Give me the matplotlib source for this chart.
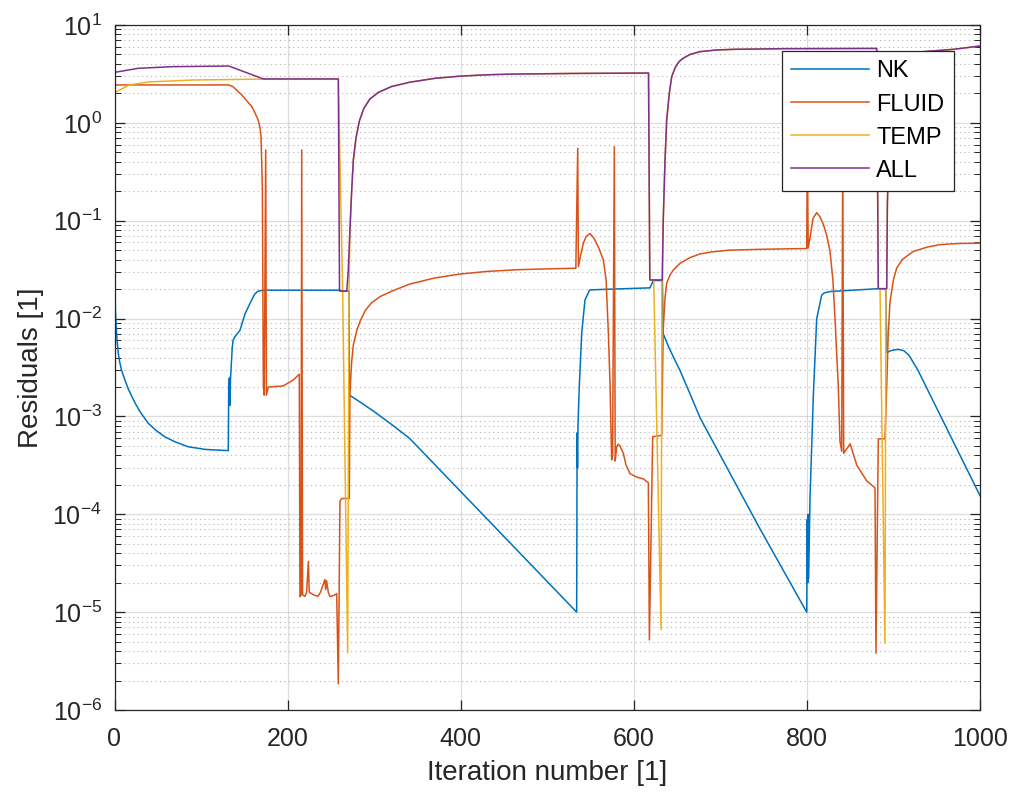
import numpy as np
import matplotlib
matplotlib.use("Agg")
from matplotlib import pyplot as plt
from matplotlib.ticker import FixedLocator, NullLocator, NullFormatter

# values (iteration, residual)
nk_x = [0, 0.5, 1, 2, 3, 4.4, 6, 8, 12, 16, 20, 24, 30, 39, 48, 58, 70, 85, 105, 131.5,
        132, 132.5, 133, 133.5, 134, 136, 137, 139, 145, 151, 158.5, 162, 165, 168, 175,
        261, 262.5, 271, 271.5, 285, 300, 320, 341, 534,
        534.5, 535, 535.5, 537, 539.8, 543.6, 549, 560, 618.7, 622.5, 633, 634, 640, 646,
        653, 665, 676.5, 745.8, 799.8, 800.3, 801, 801.5, 802, 803.6, 807.4, 811.3, 817,
        820, 826.7, 882.5, 891, 892.5, 897, 905, 912, 918, 928, 1000]
nk_y = [0.29, 0.03, 0.012, 8e-3, 6e-3, 4.4e-3, 3.6e-3, 3.0e-3, 2.36e-3, 1.9e-3, 1.6e-3,
        1.36e-3, 1.1e-3, 8.5e-4, 7.2e-4, 6.2e-4, 5.5e-4, 4.9e-4, 4.6e-4, 4.47e-4,
        2.4e-3, 1.4e-3, 2.5e-3, 1.3e-3, 2.4e-3, 5e-3, 6.0e-3, 6.5e-3, 7.6e-3, 0.0113,
        0.0155, 0.0178, 0.0188, 0.0193, 0.0195,
        0.0195, 0.0191, 0.0191, 1.65e-3, 1.38e-3, 1.12e-3, 8.3e-4, 5.96e-4, 1.0e-5,
        6.8e-4, 3e-4, 8e-4, 2.0e-3, 7.1e-3, 0.0155, 0.0196, 0.0198, 0.0206, 0.0245,
        0.0245, 7.0e-3, 5.2e-3, 4.0e-3,
        3.0e-3, 1.7e-3, 9.7e-4, 7.1e-5, 1.0e-5, 8.8e-5, 2e-5, 1e-4, 2.2e-5, 1.47e-4,
        1.6e-3, 9.9e-3, 0.0173,
        0.0183, 0.0189, 0.0202, 0.0202, 4.5e-3, 4.7e-3, 4.85e-3, 4.7e-3, 4.2e-3, 3.0e-3,
        1.55e-4]

fluid_x = [0, 132, 137, 147, 158.5, 162, 166, 168, 169.3, 170.8, 172, 173, 174.7, 175.5,
           177.7, 195, 206.6, 213.5, 214.3, 215.5, 216.3, 217.3, 220, 222, 224, 225, 230,
           235, 238, 241, 243, 244, 245, 247, 249, 254.8, 256.7, 258.6, 260.5, 262.5,
           271.3, 272, 274, 276, 280, 284, 290, 297, 307, 320, 341, 370, 399, 430, 467,
           500, 533, 535.2, 536, 538, 541.7, 545, 549.4, 554, 559, 562, 564.8, 568,
           570.6, 572.5, 574.4, 575.5, 577.5, 578.5, 580.2, 582, 584, 587.9, 591, 595.6,
           603.4, 611, 616.8, 618, 621.8, 632.2, 633, 634, 636, 638, 642, 645.6, 653.4,
           665, 676.5, 690, 710, 745.8, 799.8, 800.5, 801.5, 804, 807, 811.3, 815, 819,
           823, 826.7, 830, 832.5, 836.3, 838.2, 840.2, 841.4, 842.5, 844, 850, 857.5,
           869, 878.7, 879.8, 882.5, 890.2, 892.2, 894, 896, 900, 903.7, 910, 923, 940,
           953.8, 975, 1000]
fluid_y = [2.44, 2.44, 2.34, 1.93, 1.47, 1.28, 1.07, 0.9, 0.72, 0.223, 2.0e-3, 1.65e-3,
           0.53, 1.65e-3,
           2.0e-3, 2.05e-3, 2.36e-3, 2.7e-3, 1.44e-5, 1.5e-5, 0.53, 1.5e-5, 1.45e-5,
           1.6e-5, 3.3e-5, 1.6e-5, 1.5e-5,
           1.45e-5, 1.6e-5, 1.9e-5, 2.16e-5, 1.7e-5, 2.1e-5, 1.6e-5, 1.44e-5, 1.5e-5,
           1.55e-5, 1.85e-6, 1.36e-4, 1.45e-4,
           1.45e-4, 1.7e-3, 3.6e-3, 5.4e-3, 7.6e-3, 9.5e-3, 0.0122, 0.0145, 0.0168, 0.019,
           0.0225, 0.026, 0.0285, 0.0303, 0.0316,
           0.0322, 0.0327, 0.55, 0.034, 0.042, 0.059, 0.069, 0.074, 0.066, 0.054, 0.046,
           0.0397, 0.0248,
           7.1e-3, 2.2e-3, 3.6e-4, 4e-4, 0.57, 3.5e-4, 4.9e-4, 5.2e-4, 5.0e-4, 4.2e-4,
           3.2e-4, 2.6e-4,
           2.4e-4, 2.3e-4, 2.1e-4, 5.2e-6, 6.2e-4, 6.4e-4, 2e-3, 7.8e-3, 0.016, 0.023,
           0.028, 0.0313, 0.0367,
           0.042, 0.0458, 0.048, 0.05, 0.051, 0.052, 0.55, 0.0526, 0.07, 0.105, 0.121,
           0.11, 0.092,
           0.07, 0.0486, 0.025, 9.9e-3, 2.0e-3, 5.6e-4, 4.4e-4, 0.55, 4.2e-4, 4.4e-4,
           5.25e-4, 3.2e-4,
           2.2e-4, 1.86e-4, 3.8e-6, 5.9e-4, 5.9e-4, 2e-3, 7e-3, 0.0148, 0.025, 0.0327,
           0.04, 0.0486, 0.054,
           0.057, 0.0585, 0.059]

temp_x = [0, 17, 40, 90, 172, 258.6, 263.6, 269.4, 271, 272, 274, 276, 279, 283, 288,
          295, 305, 320, 341, 370, 399, 430, 460, 533, 617, 618.5, 623, 631.5, 632.5,
          634, 636, 638, 641, 643.8, 648, 652, 657, 665, 676.5, 695, 715, 772.7, 880.6,
          882.5, 884.5, 890.2, 891.4, 892.2, 893, 896, 900, 910, 930, 970, 1000]
temp_y = [2.03, 2.44, 2.62, 2.74, 2.8, 2.81, 0.0191, 3.85e-6, 0.0191, 0.08, 0.2, 0.42,
          0.7, 1.05, 1.4, 1.75, 2.05, 2.35, 2.6, 2.85, 3.0, 3.1, 3.15, 3.2, 3.23, 0.0248,
          0.0248, 6.6e-6, 0.0248,
          0.1, 0.4, 1.07, 2.0, 2.97, 3.7, 4.2, 4.57, 5.0, 5.34, 5.55, 5.64, 5.73, 5.76,
          0.0202, 0.0202, 4.8e-6, 0.0202, 0.0202, 0.15, 1.5, 3.0, 4.5, 5.3, 5.65, 6.1]

all_x = [0, 27.5, 66, 132, 172, 258.6, 260, 268.3, 270, 272, 274, 276, 279, 283, 288,
         295, 305, 320, 341, 370, 399, 430, 460, 533, 617, 618.5, 633, 634, 636, 638,
         641, 643.8, 648, 652, 657, 665, 676.5, 695, 715, 772.7, 880.6, 882.5, 892.2,
         893, 896, 900, 910, 930, 970, 1000]
all_y = [3.28, 3.61, 3.75, 3.81, 2.81, 2.81, 0.0191, 0.0191, 0.03, 0.08, 0.2, 0.42, 0.7,
         1.05, 1.4, 1.75, 2.05, 2.35, 2.6, 2.85, 3.0, 3.1, 3.15, 3.2, 3.23, 0.0248,
         0.0248, 0.1, 0.4, 1.07,
         2.0, 2.97, 3.7, 4.2, 4.57, 5.0, 5.34, 5.55, 5.64, 5.73, 5.76, 0.0202, 0.0202,
         0.15, 1.5, 3.0, 4.5, 5.3, 5.65, 6.1]

names = ["NK", "FLUID", "TEMP", "ALL"]
colors = ["#0072BD", "#D95319", "#EDB120", "#7E2F8E"]
x_ticks = [0, 200, 400, 600, 800, 1000]
y_decades = [-6, -5, -4, -3, -2, -1, 0, 1]

plt.rcParams['font.family'] = ['Liberation Sans', 'DejaVu Sans']
plt.rcParams['mathtext.fontset'] = 'custom'
plt.rcParams['mathtext.rm'] = 'Liberation Sans'
plt.rcParams['mathtext.it'] = 'Liberation Sans:italic'

dark = "#262626"

fig = plt.figure(figsize=(10.17, 7.96), dpi=100)
ax = fig.add_axes([114.5 / 1017, 86 / 796, (980 - 114.5) / 1017, 685 / 796])

series = [(nk_x, nk_y), (fluid_x, fluid_y), (temp_x, temp_y), (all_x, all_y)]
for (sx, sy), name, c in zip(series, names, colors):
    ax.plot(sx, sy, color=c, lw=1.1, label=name)

ax.set_yscale("log")
ax.set_xlim(0, 1000)
ax.set_ylim(1e-6, 1e1)
ax.set_xticks(x_ticks)
ax.xaxis.set_minor_locator(NullLocator())

# only decades inside the view, so no stray labels outside the axes
major = [10.0 ** d for d in y_decades]
minor = [m * 10.0 ** d for d in y_decades[:-1] for m in range(2, 10)]
ax.yaxis.set_major_locator(FixedLocator(major))
ax.yaxis.set_minor_locator(FixedLocator(minor))
ax.yaxis.set_minor_formatter(NullFormatter())
ax.set_yticklabels([r"$\mathdefault{10^{%d}}$" % d for d in y_decades])

ax.grid(True, which="major", color=dark, alpha=0.15, lw=0.9)
ax.grid(True, which="minor", axis="y", color=dark, alpha=0.35, lw=0.8, linestyle=(0, (1, 3)))
ax.set_axisbelow(True)

for s in ax.spines.values():
    s.set_color(dark)
    s.set_linewidth(0.9)
ax.tick_params(which="both", direction="in", top=True, right=True, colors=dark, labelsize=18)
ax.tick_params(which="major", length=7, width=0.9)
ax.tick_params(which="minor", length=4, width=0.7)
ax.tick_params(axis="x", pad=12)
ax.tick_params(axis="y", pad=9)

ax.set_xlabel("Iteration number [1]", fontsize=20, color=dark, labelpad=7)
ax.set_ylabel("Residuals [1]", fontsize=20, color=dark, labelpad=6)

leg = ax.legend(loc="upper left", bbox_to_anchor=(782 / 1017, 1 - 51 / 796),
                bbox_transform=fig.transFigure, borderaxespad=0, fontsize=17,
                fancybox=False, framealpha=1, edgecolor=dark, handlelength=3.3,
                handletextpad=0.3, borderpad=0.4, labelspacing=0.47)
leg.get_frame().set_linewidth(0.9)

fig.savefig("out.png", dpi=100)
